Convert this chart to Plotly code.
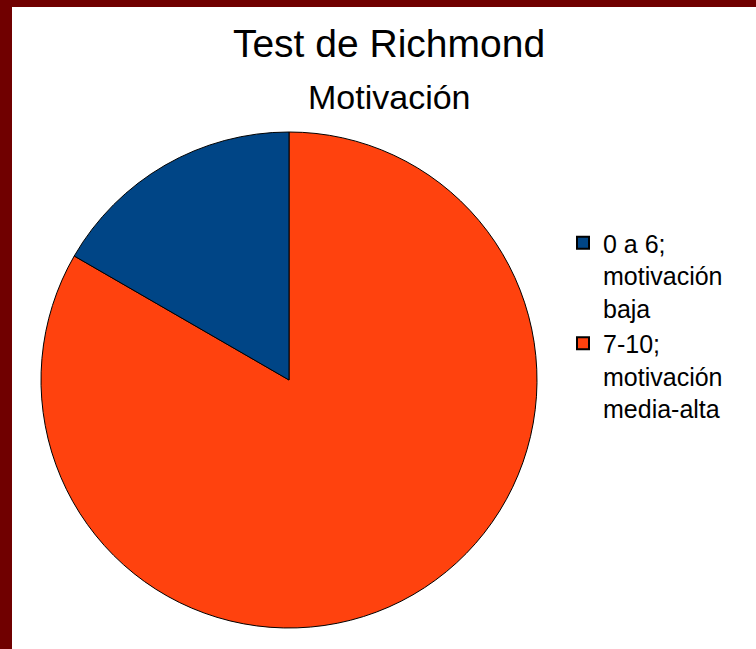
import plotly.graph_objects as go

# slice order drawn clockwise from 12 o'clock: orange first, then blue
labels = ["7-10;<br>motivación<br>media-alta", "0 a 6;<br>motivación<br>baja"]
values = [10, 2]
colors = ["#ff420e", "#004586"]

W, H = 756, 649

fig = go.Figure(
    go.Pie(
        labels=labels,
        values=values,
        sort=False,
        direction="clockwise",
        rotation=0,
        textinfo="none",
        hoverinfo="label+percent",
        marker=dict(colors=colors, line=dict(color="#000000", width=1)),
        domain=dict(x=[41 / W, 537 / W], y=[1 - 628 / H, 1 - 132 / H]),
    )
)

fig.update_layout(
    width=W,
    height=H,
    margin=dict(l=0, r=0, t=0, b=0),
    paper_bgcolor="#ffffff",
    plot_bgcolor="#ffffff",
    font=dict(family="Liberation Sans, Arial, sans-serif", color="#000000"),
    title=dict(
        text="Test de Richmond",
        font=dict(size=39, color="#000000"),
        x=389 / W,
        xanchor="center",
        xref="paper",
        yref="paper",
        y=1 - 43 / H,
        yanchor="middle",
    ),
    annotations=[
        dict(
            text="Motivación",
            x=389 / W,
            y=1 - 97 / H,
            xref="paper",
            yref="paper",
            xanchor="center",
            yanchor="middle",
            showarrow=False,
            font=dict(size=34, color="#000000"),
        )
    ],
    legend=dict(
        x=563 / W,
        y=1 - 220 / H,
        xanchor="left",
        yanchor="top",
        valign="top",
        traceorder="reversed",
        font=dict(size=25, color="#000000"),
        bgcolor="rgba(0,0,0,0)",
        itemsizing="constant",
        tracegroupgap=4,
    ),
    shapes=[
        dict(type="rect", xref="paper", yref="paper", x0=0, x1=12 / W, y0=0, y1=1,
             fillcolor="#700000", line=dict(width=0), layer="below"),
        dict(type="rect", xref="paper", yref="paper", x0=0, x1=1, y0=1 - 7 / H, y1=1,
             fillcolor="#700000", line=dict(width=0), layer="below"),
    ],
)

fig.write_html(
    "out.html",
    config={"displayModeBar": False},
    post_script="document.body.style.margin='0px';",
)
